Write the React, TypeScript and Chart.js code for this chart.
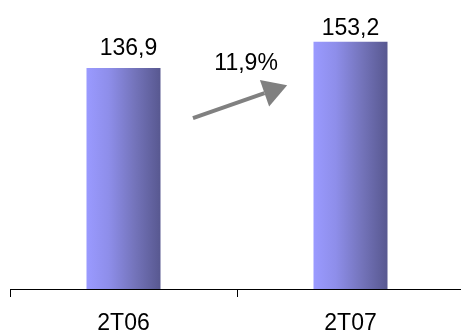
import React, { useEffect, useRef } from "react";
import { Chart, registerables } from "chart.js";

Chart.register(...registerables);

const categories = ["2T06", "2T07"];
const values = [136.9, 153.2];
const valueLabels = ["136,9", "153,2"];
const growthLabel = "11,9%";

const FONT = "'Liberation Sans', Arial, sans-serif";

const annotationPlugin = {
  id: "annotations",
  afterDatasetsDraw(chart: any) {
    const { ctx, scales } = chart;
    const x = scales.x;
    const y = scales.y;
    ctx.save();
    // value labels above bars
    const meta = chart.getDatasetMeta(0);
    const gaps = [13, 7];
    const dxs = [5, 0];
    ctx.font = `23px ${FONT}`;
    ctx.fillStyle = "#000";
    ctx.textAlign = "center";
    ctx.textBaseline = "alphabetic";
    meta.data.forEach((bar: any, i: number) => {
      ctx.fillText(valueLabels[i], bar.x + dxs[i], bar.y - gaps[i]);
    });
    // growth arrow
    const x0 = x.getPixelForValue(0.306);
    const y0 = y.getPixelForValue(105.8);
    const x1 = x.getPixelForValue(0.721);
    const y1 = y.getPixelForValue(126.2);
    const ang = Math.atan2(y1 - y0, x1 - x0);
    const headLen = 24;
    const headHalf = 14;
    const bx = x1 - Math.cos(ang) * headLen;
    const by = y1 - Math.sin(ang) * headLen;
    ctx.strokeStyle = "#808080";
    ctx.fillStyle = "#808080";
    ctx.lineWidth = 4;
    ctx.beginPath();
    ctx.moveTo(x0, y0);
    ctx.lineTo(bx, by);
    ctx.stroke();
    ctx.beginPath();
    ctx.moveTo(x1, y1);
    ctx.lineTo(bx + Math.sin(ang) * headHalf, by - Math.cos(ang) * headHalf);
    ctx.lineTo(bx - Math.sin(ang) * headHalf, by + Math.cos(ang) * headHalf);
    ctx.closePath();
    ctx.fill();
    // growth label
    ctx.fillStyle = "#000";
    ctx.textBaseline = "alphabetic";
    ctx.fillText(growthLabel, x.getPixelForValue(0.54), y.getPixelForValue(135.5));
    ctx.restore();
  },
};

export default function App() {
  const ref = useRef<HTMLCanvasElement>(null);
  useEffect(() => {
    if (!ref.current) return;
    const chart = new Chart(ref.current, {
      type: "bar",
      data: {
        labels: categories,
        datasets: [
          {
            data: values,
            backgroundColor: (c: any) => {
              const ch = c.chart;
              const xs = ch.scales?.x;
              if (!ch.chartArea || !xs || c.dataIndex === undefined) return "#7a7acc";
              const cx = xs.getPixelForValue(c.dataIndex);
              const half = (xs.width / categories.length) * 0.326 / 2;
              const g = ch.ctx.createLinearGradient(cx - half, 0, cx + half, 0);
              g.addColorStop(0, "#9A9AFF");
              g.addColorStop(0.3, "#8E8EEA");
              g.addColorStop(0.65, "#7474BB");
              g.addColorStop(1, "#585890");
              return g;
            },
            borderWidth: 0,
            barPercentage: 0.326,
            categoryPercentage: 1,
          },
        ],
      },
      options: {
        animation: false,
        responsive: false,
        maintainAspectRatio: false,
        layout: { padding: { left: 10, right: 0, top: 0, bottom: 0 } },
        plugins: { legend: { display: false }, tooltip: { enabled: false } },
        scales: {
          x: {
            type: "category",
            offset: true,
            grid: {
              display: true,
              offset: true,
              drawOnChartArea: false,
              drawTicks: true,
              tickLength: 8,
              color: "#000",
              lineWidth: 1,
            },
            border: { display: true, color: "#000", width: 1 },
            ticks: {
              font: { family: FONT, size: 23 },
              color: "#000",
              padding: 13,
            },
            afterFit: (s: any) => {
              s.height = 46;
            },
          },
          y: { display: false, min: 0, max: 179 },
        },
      },
      plugins: [annotationPlugin],
    });
    return () => chart.destroy();
  }, []);
  return (
    <canvas
      ref={ref}
      width={464}
      height={335}
      style={{ position: "fixed", left: 0, top: 0, width: 464, height: 335, background: "#fff" }}
    />
  );
}
